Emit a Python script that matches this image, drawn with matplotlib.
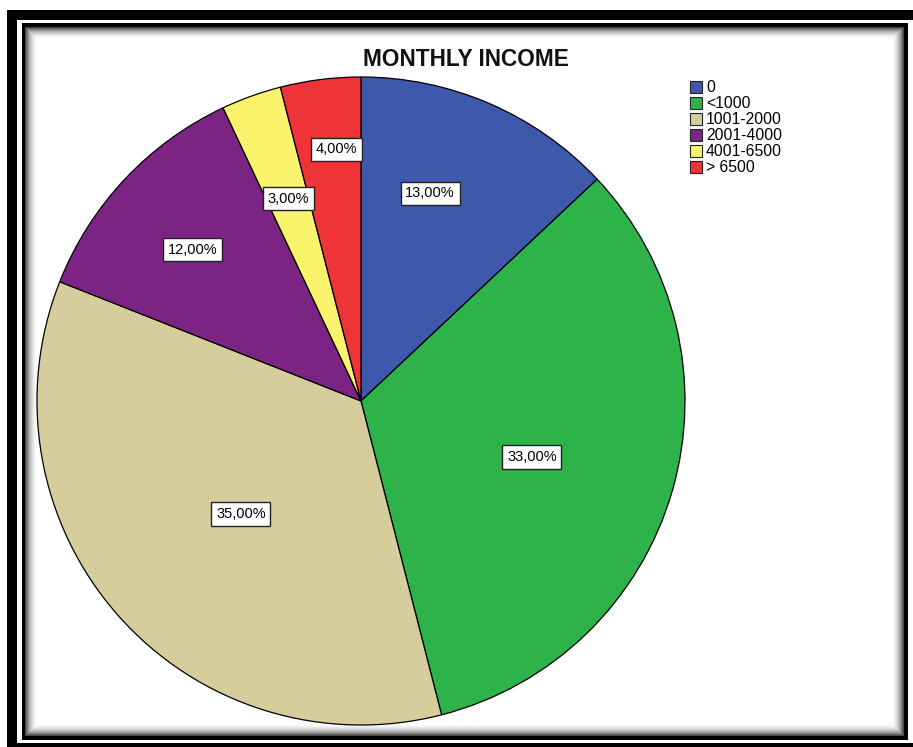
import matplotlib
matplotlib.use("Agg")
import matplotlib.pyplot as plt
from matplotlib.patches import Rectangle
import numpy as np

plt.rcParams['font.family'] = ['Liberation Sans', 'DejaVu Sans']

categories = ['0', '<1000', '1001-2000', '2001-4000', '4001-6500', '> 6500']
values = [13.0, 33.0, 35.0, 12.0, 3.0, 4.0]
colors = ['#3E58AC', '#2DB34A', '#D5CE9C', '#7B2483', '#F9F46C', '#EE3438']
# label placement (style): fraction of radius and angular offset from wedge middle
label_radius = [0.676, 0.555, 0.509, 0.698, 0.664, 0.78]
label_offset_deg = [5.0, -1.9, 1.9, 1.2, 0.0, -1.7]
title = 'MONTHLY INCOME'

W, H = 913, 747
fig = plt.figure(figsize=(W / 100, H / 100), dpi=100)
fig.patch.set_facecolor('white')


def rect_px(x0, y0, x1, y1, z=-10, **kw):
    r = Rectangle((x0 / W, 1 - y1 / H), (x1 - x0) / W, (y1 - y0) / H,
                  transform=fig.transFigure, zorder=z, **kw)
    fig.add_artist(r)


# outer thick black frame (cropped on right/bottom)
rect_px(7, 10, 17, 747, facecolor='black', edgecolor='none')
rect_px(7, 10, 913, 20, facecolor='black', edgecolor='none')
rect_px(7, 742.5, 913, 747, facecolor='black', edgecolor='none')

# inner frame with soft shadow gradient
rect_px(22, 23, 908, 740, facecolor='black', edgecolor='none')
n = 14
for i in range(n):
    t = (i + 1) / n
    g = 0.15 + 0.85 * (1 - (1 - t) ** 2.2)
    rect_px(25 + i, 27 + i, 904 - i, 736 - i, facecolor=(g, g, g), edgecolor='none')
rect_px(25 + n, 27 + n, 904 - n, 736 - n, facecolor='white', edgecolor='none')

# pie axes
cx, cy, R = 361, 401, 324
ax = fig.add_axes([(cx - R) / W, 1 - (cy + R) / H, 2 * R / W, 2 * R / H])
ax.patch.set_alpha(0)

wedges, _ = ax.pie(values, colors=colors, startangle=90, counterclock=False,
                   radius=1.0, wedgeprops=dict(edgecolor='black', linewidth=0.9))
ax.set_xlim(-1, 1)
ax.set_ylim(-1, 1)
ax.set_aspect('equal')
ax.axis('off')

total = sum(values)
start = 90.0
for v, lr, off in zip(values, label_radius, label_offset_deg):
    span = 360.0 * v / total
    mid = np.deg2rad(start - span / 2 + off)
    start -= span
    ax.text(lr * np.cos(mid), lr * np.sin(mid), f"{v:.2f}%".replace('.', ','),
            ha='center', va='center', fontsize=10.5, color='black',
            bbox=dict(boxstyle='square,pad=0.32', facecolor='white',
                      edgecolor='#222222', linewidth=1.0))

fig.text(466 / W, 1 - 59 / H, title, ha='center', va='center',
         fontsize=16.3, fontweight='bold', color='#111111')

# legend
lx, ly0, dy = 690, 87, 16
for i, (c, lab) in enumerate(zip(colors, categories)):
    y = ly0 + i * dy
    rect_px(lx, y - 6, lx + 12, y + 6, z=5, facecolor=c, edgecolor='#222222', linewidth=0.8)
    fig.text((lx + 16) / W, 1 - y / H, lab, ha='left', va='center',
             fontsize=11.3, color='black')

fig.savefig('out.png', dpi=100, facecolor='white')
